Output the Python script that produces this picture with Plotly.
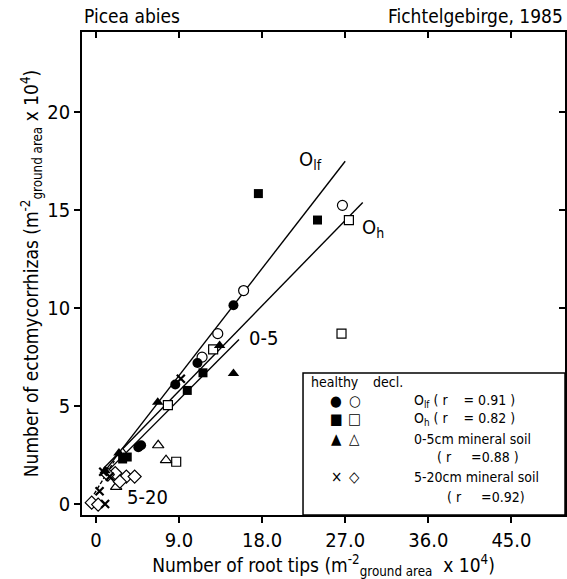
import plotly.graph_objects as go

# ---- data ----
olf_healthy_x = [14.9, 11.0, 8.6, 4.6, 4.9]
olf_healthy_y = [10.15, 7.2, 6.1, 2.9, 3.0]
olf_decl_x = [26.7, 16.0, 13.2, 11.5]
olf_decl_y = [15.25, 10.9, 8.7, 7.5]

oh_healthy_x = [17.6, 24.0, 11.6, 9.9, 3.4, 2.9]
oh_healthy_y = [15.85, 14.5, 6.7, 5.8, 2.4, 2.3]
oh_decl_x = [27.4, 26.6, 12.7, 7.8, 8.7]
oh_decl_y = [14.5, 8.7, 7.9, 5.05, 2.16]

m05_healthy_x = [13.4, 14.9, 6.7, 2.5, 1.0]
m05_healthy_y = [8.1, 6.67, 5.2, 2.6, 1.7]
m05_decl_x = [6.75, 7.6, 2.2, 2.9]
m05_decl_y = [3.0, 2.24, 0.88, 2.6]

m520_healthy_x = [0.8, 0.4, 1.0, 1.5, 9.2]
m520_healthy_y = [1.65, 0.65, 0.0, 1.4, 6.4]
m520_decl_x = [2.1, 3.3, 4.2, 2.6, -0.45, 0.25, 1.3]
m520_decl_y = [1.58, 1.4, 1.4, 1.14, 0.07, -0.03, 1.5]

# regression lines (end points)
line_olf_x = [0.6, 27.0]
line_olf_y = [1.45, 17.5]
line_oh_x = [0.8, 28.9]
line_oh_y = [1.8, 15.4]
line_05_x = [0.8, 15.5]
line_05_y = [1.45, 8.4]
line_520_x = [-0.2, 2.0]
line_520_y = [0.5, 2.2]

x_ticks = [0, 9, 18, 27, 36, 45]
x_tick_labels = ["0", "9.0", "18.0", "27.0", "36.0", "45.0"]
y_ticks = [0, 5, 10, 15, 20]
y_tick_labels = ["0", "5", "10", "15", "20"]

FONT = "DejaVu Sans Condensed, Liberation Sans Narrow, DejaVu Sans, sans-serif"

fig = go.Figure()

def add_line(xs, ys, dash="solid"):
    fig.add_trace(go.Scatter(x=xs, y=ys, mode="lines",
                             line=dict(color="black", width=1.4, dash=dash),
                             showlegend=False, hoverinfo="skip"))

add_line(line_olf_x, line_olf_y)
add_line(line_oh_x, line_oh_y)
add_line(line_05_x, line_05_y)
add_line(line_520_x, line_520_y, dash="4px,2px")

def add_pts(xs, ys, symbol, size, filled=True):
    fig.add_trace(go.Scatter(
        x=xs, y=ys, mode="markers",
        marker=dict(symbol=symbol, size=size,
                    color="black" if filled else "white",
                    line=dict(color="black", width=1.2 if not filled else 0)),
        showlegend=False, hoverinfo="skip"))

add_pts(olf_decl_x, olf_decl_y, "circle", 10, False)
add_pts(oh_decl_x, oh_decl_y, "square", 9, False)
add_pts(m05_decl_x, m05_decl_y, "triangle-up", 10, False)
add_pts(m520_decl_x, m520_decl_y, "diamond", 10, False)
add_pts(olf_healthy_x, olf_healthy_y, "circle", 10, True)
add_pts(oh_healthy_x, oh_healthy_y, "square", 9, True)
add_pts(m05_healthy_x, m05_healthy_y, "triangle-up", 10, True)
fig.add_trace(go.Scatter(x=m520_healthy_x, y=m520_healthy_y, mode="markers",
                         marker=dict(symbol="x-thin", size=8,
                                     line=dict(color="black", width=2.2)),
                         showlegend=False, hoverinfo="skip"))

# dummy trace to activate mirrored axes
fig.add_trace(go.Scatter(x=[None], y=[None], xaxis="x2", yaxis="y2",
                         showlegend=False, hoverinfo="skip"))

xr = [-1.5, 50.8]
yr = [-0.56, 24.1]

fig.update_layout(
    width=567, height=579,
    margin=dict(l=82, r=2, t=32, b=64),
    plot_bgcolor="white", paper_bgcolor="white",
    font=dict(family=FONT, color="black", size=18),
    xaxis=dict(range=xr, tickvals=x_ticks, ticktext=x_tick_labels,
               showgrid=False, zeroline=False, showline=True, linecolor="black",
               linewidth=1.8, ticks="outside", ticklen=6, tickwidth=1.5,
               tickcolor="black", tickfont=dict(size=20, family=FONT),
               title=dict(text="Number of root tips (m<sup>-2</sup><sub>ground area</sub>  x 10<sup>4</sup>)",
                          font=dict(size=19, family=FONT), standoff=5)),
    yaxis=dict(range=yr, tickvals=y_ticks, ticktext=y_tick_labels,
               showgrid=False, zeroline=False, showline=True, linecolor="black",
               linewidth=1.8, ticks="outside", ticklen=6, tickwidth=1.5,
               tickcolor="black", tickfont=dict(size=20, family=FONT),
               title=dict(text="Number of ectomycorrhizas (m<sup>-2</sup><sub>ground area</sub> x 10<sup>4</sup>)",
                          font=dict(size=19, family=FONT), standoff=4)),
    xaxis2=dict(range=xr, overlaying="x", side="top", tickvals=x_ticks,
                showticklabels=False, showgrid=False, zeroline=False,
                showline=True, linecolor="black", linewidth=1.8,
                ticks="inside", ticklen=6, tickwidth=1.5, tickcolor="black"),
    yaxis2=dict(range=yr, overlaying="y", side="right", tickvals=y_ticks,
                showticklabels=False, showgrid=False, zeroline=False,
                showline=True, linecolor="black", linewidth=1.8,
                ticks="inside", ticklen=6, tickwidth=1.5, tickcolor="black"),
    showlegend=False,
)

ann = []
# titles
ann.append(dict(text="Picea abies", xref="paper", yref="paper", x=0.0, y=1.0,
                xanchor="left", yanchor="bottom", yshift=3, showarrow=False,
                font=dict(size=19, family=FONT)))
ann.append(dict(text="Fichtelgebirge, 1985", xref="paper", yref="paper", x=1.0, y=1.0,
                xanchor="right", yanchor="bottom", yshift=3, showarrow=False,
                font=dict(size=19, family=FONT)))
# line labels
ann.append(dict(text="O<sub>lf</sub>", x=23.2, y=17.55, showarrow=False, font=dict(size=20, family=FONT)))
ann.append(dict(text="O<sub>h</sub>", x=30.0, y=14.1, showarrow=False, font=dict(size=20, family=FONT)))
ann.append(dict(text="0-5", x=18.1, y=8.5, showarrow=False, font=dict(size=20, family=FONT)))
ann.append(dict(text="5-20", x=5.6, y=0.36, showarrow=False, font=dict(size=20, family=FONT)))

# legend box
fig.add_shape(type="rect", xref="paper", yref="paper", x0=0.4576, x1=1.0, y0=0.0, y1=0.294,
              line=dict(color="black", width=1.5), fillcolor="white", layer="above")

def lt(text, x, y, anchor="left", size=14):
    ann.append(dict(text=text, xref="paper", yref="paper", x=x, y=y, xanchor=anchor,
                    yanchor="middle", showarrow=False, font=dict(size=size, family=FONT)))

lt("healthy", 0.470, 0.275)
lt("decl.", 0.598, 0.275)
rows = [0.236, 0.199, 0.157, 0.079]
filled = ["●", "■", "▲", "×"]
opened = ["○", "□", "△", "◇"]
for r, f, o in zip(rows, filled, opened):
    lt(f, 0.526, r, anchor="center", size=15)
    lt(o, 0.565, r, anchor="center", size=15)
lt("O<sub>lf</sub> ( r    = 0.91 )", 0.683, 0.236)
lt("O<sub>h</sub> ( r    = 0.82 )", 0.683, 0.199)
lt("0-5cm mineral soil", 0.683, 0.157)
lt("( r     =0.88 )", 0.731, 0.120)
lt("5-20cm mineral soil", 0.683, 0.079)
lt("( r     =0.92)", 0.752, 0.037)

fig.update_layout(annotations=ann)
fig.write_html("out.html",
               config={"displayModeBar": False},
               post_script="document.body.style.margin='0';document.body.style.overflow='hidden';")
